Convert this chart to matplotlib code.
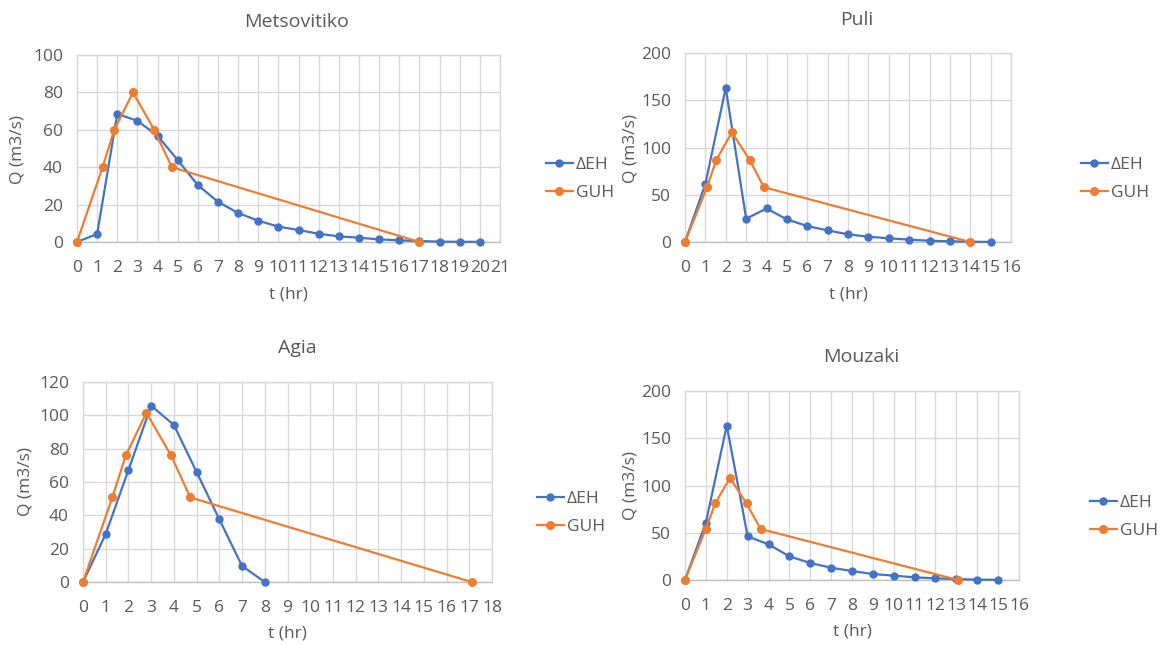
import matplotlib
matplotlib.use("Agg")
import matplotlib.pyplot as plt

plt.rcParams['font.family'] = ['Open Sans', 'DejaVu Sans']

# ---- hourly ΔEH hydrograph ordinates (m3/s) ----
met_deh_t = list(range(0, 21))
met_deh_q = [0, 4.3, 68.5, 64.8, 56.8, 43.8, 30.4, 21.5, 15.5, 11.4, 8.2,
             6.4, 4.4, 3.0, 2.3, 1.4, 0.9, 0.5, 0.2, 0.1, 0.1]
puli_deh_t = list(range(0, 16))
puli_deh_q = [0, 61.5, 163, 24.6, 35.5, 23.9, 16.9, 12.3, 8.1, 5.6, 3.9,
              2.5, 1.4, 0.7, 0.3, 0.1]
agia_deh_t = list(range(0, 9))
agia_deh_q = [0, 28.8, 67.2, 105.8, 94.2, 66.0, 37.6, 9.6, 0]
mou_deh_t = list(range(0, 16))
mou_deh_q = [0, 60.7, 163.3, 46.2, 37.7, 25.0, 18.0, 13.0, 9.5, 6.3, 4.6,
             2.8, 1.8, 1.0, 0.4, 0.2]

# ---- GUH ordinates (m3/s) ----
met_guh_t = [0, 1.27, 1.85, 2.78, 3.83, 4.71, 17.0]
met_guh_q = [0, 40, 60, 80, 60, 40, 0]
puli_guh_t = [0, 1.08, 1.54, 2.30, 3.17, 3.87, 14.0]
puli_guh_q = [0, 58, 87, 116, 87, 58, 0]
agia_guh_t = [0, 1.29, 1.89, 2.79, 3.87, 4.72, 17.1]
agia_guh_q = [0, 50.75, 76.1, 101.5, 76.1, 50.75, 0]
mou_guh_t = [0, 0.99, 1.45, 2.15, 2.95, 3.62, 13.08]
mou_guh_q = [0, 54, 81, 108, 81, 54, 0]

# ---- axis settings ----
titles = ["Metsovitiko", "Puli", "Agia", "Mouzaki"]
x_max = [21, 16, 18, 16]
y_max = [100, 200, 120, 200]
y_step = [20, 50, 20, 50]
series_names = ["ΔEH", "GUH"]

BLUE = "#4472C4"
ORANGE = "#ED7D31"
GREY_TXT = "#595959"
GRID = "#D9D9D9"

W, H = 1163, 645
fig = plt.figure(figsize=(W / 100, H / 100), dpi=100)
fig.patch.set_facecolor("white")


def fx(px):
    return px / W


def fy(py):
    return 1 - py / H


# pixel layout of each panel: plot box, title, axis labels, legend
layout = [
    dict(box=(77, 55, 500, 242), title=(297, 22), ylab=(18, 149), xlab=(288, 295), leg=(546, 179)),
    dict(box=(685, 53, 1011, 242), title=(857, 20), ylab=(630, 148), xlab=(848, 295), leg=(1081, 179)),
    dict(box=(83, 382, 492, 582), title=(297, 348), ylab=(25, 482), xlab=(287, 633), leg=(537, 513)),
    dict(box=(685, 391, 1019, 580), title=(861, 357), ylab=(630, 486), xlab=(852, 632), leg=(1090, 517)),
]

data = [
    (met_deh_t, met_deh_q, met_guh_t, met_guh_q),
    (puli_deh_t, puli_deh_q, puli_guh_t, puli_guh_q),
    (agia_deh_t, agia_deh_q, agia_guh_t, agia_guh_q),
    (mou_deh_t, mou_deh_q, mou_guh_t, mou_guh_q),
]

for i, (lay, (dt, dq, gt, gq)) in enumerate(zip(layout, data)):
    x0, y0, x1, y1 = lay["box"]
    ax = fig.add_axes([fx(x0), fy(y1), fx(x1 - x0), (y1 - y0) / H])
    ax.set_facecolor("white")
    ax.plot(dt, dq, color=BLUE, lw=1.6, marker="o", ms=5, label=series_names[0],
            clip_on=False, zorder=3)
    ax.plot(gt, gq, color=ORANGE, lw=1.6, marker="o", ms=5.5, label=series_names[1],
            clip_on=False, zorder=4)
    ax.set_xlim(0, x_max[i])
    ax.set_ylim(0, y_max[i])
    ax.set_xticks(range(0, x_max[i] + 1))
    ax.set_yticks(range(0, y_max[i] + 1, y_step[i]))
    ax.grid(True, color=GRID, lw=1.0, zorder=0)
    ax.set_axisbelow(True)
    for side in ["top", "right", "left"]:
        ax.spines[side].set_color(GRID)
        ax.spines[side].set_linewidth(1.0)
    ax.spines["bottom"].set_color("#BFBFBF")
    ax.spines["bottom"].set_linewidth(1.0)
    ax.tick_params(length=0, labelsize=12.5, colors=GREY_TXT)
    ax.tick_params(axis="x", pad=13)
    ax.tick_params(axis="y", pad=10)

    tx, ty = lay["title"]
    fig.text(fx(tx), fy(ty), titles[i], ha="center", va="center",
             fontsize=14, color=GREY_TXT)
    lx, ly = lay["ylab"]
    fig.text(fx(lx), fy(ly), "Q (m3/s)", ha="center", va="center",
             rotation=90, fontsize=12.5, color=GREY_TXT)
    bx, by = lay["xlab"]
    fig.text(fx(bx), fy(by), "t (hr)", ha="center", va="center",
             fontsize=12.5, color=GREY_TXT)

    gx, gy = lay["leg"]
    leg = ax.legend(loc="center left", bbox_to_anchor=(fx(gx), fy(gy)),
                    bbox_transform=fig.transFigure, frameon=False,
                    fontsize=12.5, handlelength=1.55, handletextpad=0.15,
                    labelspacing=0.7, borderpad=0, borderaxespad=0)
    for t in leg.get_texts():
        t.set_color(GREY_TXT)

fig.savefig("out.png", dpi=100, facecolor="white")
